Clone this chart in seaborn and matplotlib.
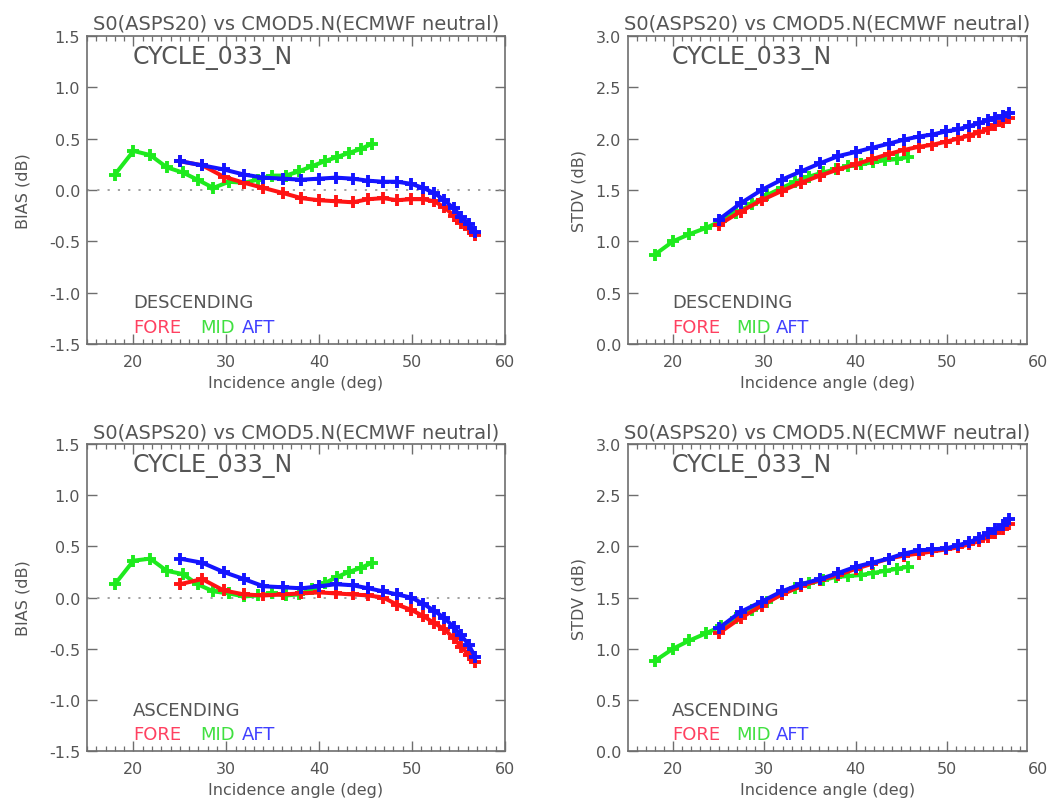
import matplotlib
matplotlib.use("Agg")
import matplotlib.pyplot as plt
import matplotlib.transforms as mtransforms
from matplotlib.ticker import MultipleLocator, FormatStrFormatter
import pandas as pd
import seaborn as sns

# Incidence angles (deg) of the wind-vector-cell bins for each antenna beam
angle_mid = [18.0, 20.0, 21.8, 23.6, 25.3, 26.9, 28.6, 30.3, 31.9, 33.4,
             34.9, 36.4, 37.8, 39.2, 40.6, 41.9, 43.2, 44.5, 45.7]
angle_side = [25.0, 27.4, 29.7, 31.9, 34.0, 36.1, 38.1, 40.0, 41.8, 43.6,
              45.3, 46.9, 48.4, 49.9, 51.2, 52.4, 53.5, 54.5, 55.3, 56.1, 56.8]

# Descending passes: bias (dB)
bias_desc_fore = [0.28, 0.24, 0.13, 0.07, 0.02, -0.03, -0.08, -0.10, -0.11, -0.12,
                  -0.09, -0.08, -0.10, -0.09, -0.09, -0.11, -0.17, -0.25, -0.32, -0.38, -0.44]
bias_desc_mid = [0.15, 0.38, 0.34, 0.22, 0.17, 0.10, 0.02, 0.08, 0.07, 0.10,
                 0.14, 0.14, 0.18, 0.23, 0.28, 0.32, 0.36, 0.40, 0.45]
bias_desc_aft = [0.28, 0.24, 0.20, 0.15, 0.12, 0.11, 0.10, 0.11, 0.12, 0.11,
                 0.09, 0.08, 0.08, 0.06, 0.02, -0.03, -0.10, -0.18, -0.26, -0.33, -0.41]

# Descending passes: standard deviation (dB)
stdv_desc_fore = [1.16, 1.29, 1.40, 1.49, 1.57, 1.64, 1.70, 1.75, 1.80, 1.85,
                  1.89, 1.92, 1.94, 1.97, 2.00, 2.03, 2.06, 2.09, 2.13, 2.16, 2.20]
stdv_desc_mid = [0.87, 1.00, 1.07, 1.13, 1.20, 1.28, 1.36, 1.45, 1.52, 1.58,
                 1.63, 1.67, 1.70, 1.73, 1.75, 1.77, 1.79, 1.80, 1.82]
stdv_desc_aft = [1.21, 1.37, 1.50, 1.60, 1.68, 1.76, 1.83, 1.87, 1.91, 1.95,
                 1.99, 2.02, 2.04, 2.07, 2.09, 2.12, 2.15, 2.18, 2.20, 2.22, 2.25]

# Ascending passes: bias (dB)
bias_asc_fore = [0.13, 0.18, 0.07, 0.03, 0.02, 0.03, 0.04, 0.05, 0.04, 0.03,
                 0.02, 0.00, -0.07, -0.12, -0.18, -0.25, -0.31, -0.40, -0.48, -0.56, -0.63]
bias_asc_mid = [0.13, 0.36, 0.38, 0.26, 0.23, 0.13, 0.06, 0.04, 0.01, 0.02,
                0.04, 0.02, 0.03, 0.08, 0.14, 0.20, 0.25, 0.29, 0.34]
bias_asc_aft = [0.38, 0.34, 0.25, 0.18, 0.11, 0.10, 0.09, 0.11, 0.13, 0.12,
                0.09, 0.06, 0.03, 0.00, -0.06, -0.13, -0.20, -0.29, -0.37, -0.46, -0.58]

# Ascending passes: standard deviation (dB)
stdv_asc_fore = [1.15, 1.30, 1.42, 1.53, 1.61, 1.67, 1.72, 1.78, 1.83, 1.88,
                 1.91, 1.93, 1.95, 1.97, 1.99, 2.02, 2.05, 2.09, 2.13, 2.17, 2.22]
stdv_asc_mid = [0.88, 1.00, 1.08, 1.15, 1.22, 1.30, 1.38, 1.46, 1.53, 1.59,
                1.64, 1.67, 1.70, 1.71, 1.72, 1.74, 1.76, 1.78, 1.80]
stdv_asc_aft = [1.20, 1.36, 1.46, 1.56, 1.63, 1.68, 1.74, 1.80, 1.84, 1.88,
                1.93, 1.96, 1.97, 1.98, 2.01, 2.04, 2.08, 2.13, 2.17, 2.21, 2.27]

beams = ["FORE", "MID", "AFT"]
line_colors = {"FORE": "#ff1414", "MID": "#1eea1e", "AFT": "#1414ff"}
label_colors = {"FORE": "#ff4060", "MID": "#40e040", "AFT": "#4040ff"}

title = "S0(ASPS20) vs CMOD5.N(ECMWF neutral)"
cycle = "CYCLE_033_N"
xlabel = "Incidence angle (deg)"

sns.set_style("ticks")
plt.rcParams["font.family"] = ["DejaVu Sans"]
TXT = "#555555"
FRAME = "#6e6e6e"
TICK_PAD = 7
TICK_SIZE = 11.5

fig = plt.figure(figsize=(10.55, 8.03), dpi=100)
fig.patch.set_facecolor("white")

panels = [
    # rect, pass, quantity, series, ylim, ystep, xlim
    ([0.0825, 0.5704, 0.396, 0.3836], "DESCENDING", "BIAS (dB)",
     (bias_desc_fore, bias_desc_mid, bias_desc_aft), (-1.5, 1.5), 0.5, (15, 60)),
    ([0.5953, 0.5704, 0.3782, 0.3836], "DESCENDING", "STDV (dB)",
     (stdv_desc_fore, stdv_desc_mid, stdv_desc_aft), (0.0, 3.0), 0.5, (15.07, 58.77)),
    ([0.0825, 0.0635, 0.396, 0.3823], "ASCENDING", "BIAS (dB)",
     (bias_asc_fore, bias_asc_mid, bias_asc_aft), (-1.5, 1.5), 0.5, (15, 60)),
    ([0.5953, 0.0635, 0.3782, 0.3823], "ASCENDING", "STDV (dB)",
     (stdv_asc_fore, stdv_asc_mid, stdv_asc_aft), (0.0, 3.0), 0.5, (15.07, 58.77)),
]

for rect, pass_name, ylabel, series, ylim, ystep, xlim in panels:
    ax = fig.add_axes(rect)
    frames = []
    for beam, values in zip(beams, series):
        angles = angle_mid if beam == "MID" else angle_side
        frames.append(pd.DataFrame({"angle": angles, "value": values, "beam": beam}))
    df = pd.concat(frames, ignore_index=True)

    if ylabel.startswith("BIAS"):
        ax.axhline(0.0, color="#9a9a9a", lw=1.3, ls=(0, (1.2, 4.5)), zorder=1)

    for beam in ["MID", "FORE", "AFT"]:
        sub = df[df["beam"] == beam]
        sns.lineplot(data=sub, x="angle", y="value", ax=ax, color=line_colors[beam],
                     sort=False, estimator=None, lw=2.9, marker="+", markersize=9,
                     markeredgewidth=2.8, markeredgecolor=line_colors[beam], zorder=3)

    ax.set_xlim(*xlim)
    ax.set_ylim(*ylim)
    ax.xaxis.set_major_locator(MultipleLocator(10))
    ax.xaxis.set_minor_locator(MultipleLocator(1))
    ax.yaxis.set_major_locator(MultipleLocator(ystep))
    ax.yaxis.set_major_formatter(FormatStrFormatter("%.1f"))
    ax.tick_params(axis="both", which="major", direction="in", length=7, width=1.0,
                   color=FRAME, labelcolor=TXT, labelsize=TICK_SIZE, top=True, right=True,
                   pad=TICK_PAD)
    ax.tick_params(axis="y", which="major", pad=5)
    ax.tick_params(axis="x", which="minor", direction="in", length=3.5, width=0.9,
                   color=FRAME, top=True)
    for s in ax.spines.values():
        s.set_color(FRAME)
        s.set_linewidth(1.2)

    ax.set_xlabel(xlabel, color=TXT, fontsize=11.5)
    ax.set_ylabel(ylabel, color=TXT, fontsize=11.5)
    ax.xaxis.set_label_coords(0.5, -0.10)
    ax.yaxis.set_label_coords(-0.135 if ylabel.startswith("BIAS") else -0.105, 0.5)
    ax.set_title(title, color=TXT, fontsize=14, pad=5)

    # tick label for 60 when it sits just past the right edge of the frame
    if xlim[1] < 60:
        trans = mtransforms.blended_transform_factory(ax.transData, ax.transAxes)
        trans = trans + mtransforms.ScaledTranslation(0, -TICK_PAD / 72, fig.dpi_scale_trans)
        ax.text(60, 0, "60", transform=trans, ha="center", va="top",
                fontsize=TICK_SIZE, color=TXT, clip_on=False)

    ax.text(0.11, 0.933, cycle, transform=ax.transAxes, fontsize=17, color=TXT,
            ha="left", va="center")
    ax.text(0.11, 0.135, pass_name, transform=ax.transAxes, fontsize=13, color=TXT,
            ha="left", va="center")
    for beam, xpos in zip(beams, [0.11, 0.27, 0.37]):
        ax.text(xpos, 0.055, beam, transform=ax.transAxes, fontsize=13,
                color=label_colors[beam], ha="left", va="center")

fig.savefig("out.png", dpi=100, facecolor="white")
